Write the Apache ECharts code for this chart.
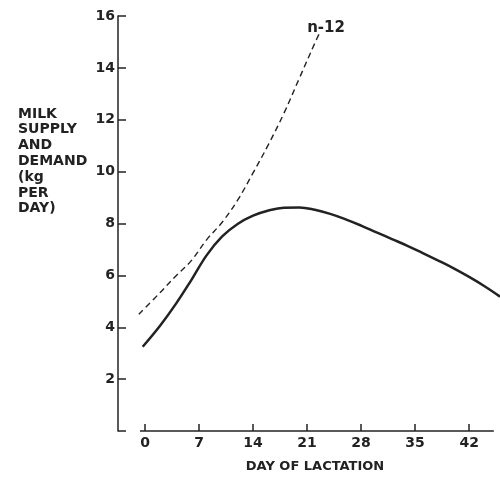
<!DOCTYPE html>
<html>
<head>
<meta charset="utf-8">
<title>Milk supply and demand</title>
<script src="https://cdn.jsdelivr.net/npm/echarts@6/dist/echarts.min.js"></script>
<style>
  html, body { margin: 0; padding: 0; background: #fff; }
  #main { width: 500px; height: 478px; }
</style>
</head>
<body>
<div id="main"></div>
<script>
// days of lactation
var supplyDays = [-0.3, 2, 4, 6, 8, 10, 12, 14, 16, 18, 20, 22, 24, 26, 28, 30, 32, 34, 36, 38, 40, 42, 44, 46];
var supply = [3.25, 4.08, 4.9, 5.82, 6.78, 7.5, 7.98, 8.3, 8.5, 8.61, 8.62, 8.53, 8.37, 8.16, 7.92, 7.66, 7.4, 7.14, 6.86, 6.57, 6.27, 5.94, 5.58, 5.18];

var demandDays = [-0.8, 2, 4, 6, 8, 10, 12, 14, 16, 18, 20, 22, 22.7];
var demand = [4.5, 5.35, 5.98, 6.57, 7.38, 8.05, 8.9, 9.95, 11.05, 12.25, 13.6, 14.95, 15.4];

var dayTicks = [0, 7, 14, 21, 28, 35, 42];
var kgTicks = [2, 4, 6, 8, 10, 12, 14, 16];

var ink = '#222';
var font = 'DejaVu Sans';

function pairs(xs, ys) {
  var out = [];
  for (var i = 0; i < xs.length; i++) out.push([xs[i], ys[i]]);
  return out;
}

var myChart = echarts.init(document.getElementById('main'));
myChart.setOption({
  animation: false,
  backgroundColor: '#fff',
  title: {
    text: 'MILK\nSUPPLY\nAND\nDEMAND\n(kg\nPER\nDAY)',
    left: 13,
    top: 101,
    textStyle: { fontFamily: font, fontSize: 14, fontWeight: 'bold', color: ink, lineHeight: 15.8 }
  },
  grid: { left: 118, right: 0, top: 16, bottom: 41 },
  xAxis: {
    type: 'value',
    min: -3.5,
    max: 46,
    name: 'DAY OF LACTATION',
    nameLocation: 'middle',
    nameGap: 29,
    nameTextStyle: { fontFamily: font, fontSize: 13, fontWeight: 'bold', color: ink, padding: [0, 0, 0, 12] },
    axisLine: { show: false },
    axisTick: { show: true, inside: true, length: 7, customValues: dayTicks, lineStyle: { color: ink, width: 1.5 } },
    axisLabel: { customValues: dayTicks, margin: 5, fontFamily: font, fontSize: 14, fontWeight: 'bold', color: ink },
    splitLine: { show: false }
  },
  yAxis: {
    type: 'value',
    min: 0,
    max: 16,
    axisLine: { show: true, onZero: false, lineStyle: { color: ink, width: 1.5 } },
    axisTick: { show: true, inside: true, length: 8, customValues: [0].concat(kgTicks), lineStyle: { color: ink, width: 1.5 } },
    axisLabel: { customValues: kgTicks, margin: 3, fontFamily: font, fontSize: 14, fontWeight: 'bold', color: ink },
    splitLine: { show: false }
  },
  series: [
    {
      name: 'supply',
      type: 'line',
      smooth: 0.4,
      symbol: 'none',
      clip: false,
      data: pairs(supplyDays, supply),
      lineStyle: { color: ink, width: 2.5 },
      markLine: {
        silent: true,
        symbol: 'none',
        label: { show: false },
        lineStyle: { color: ink, width: 1.5, type: 'solid' },
        data: [[{ coord: [-0.65, 0] }, { coord: [45.2, 0] }]]
      }
    },
    {
      name: 'demand',
      type: 'line',
      smooth: 0.4,
      symbol: 'none',
      data: pairs(demandDays, demand),
      lineStyle: { color: ink, width: 1.4, type: [6, 4] },
      endLabel: {
        show: true,
        formatter: 'n-12',
        offset: [-21, -3],
        fontFamily: font,
        fontSize: 15,
        fontWeight: 'bold',
        color: ink
      }
    }
  ]
});
</script>
</body>
</html>
